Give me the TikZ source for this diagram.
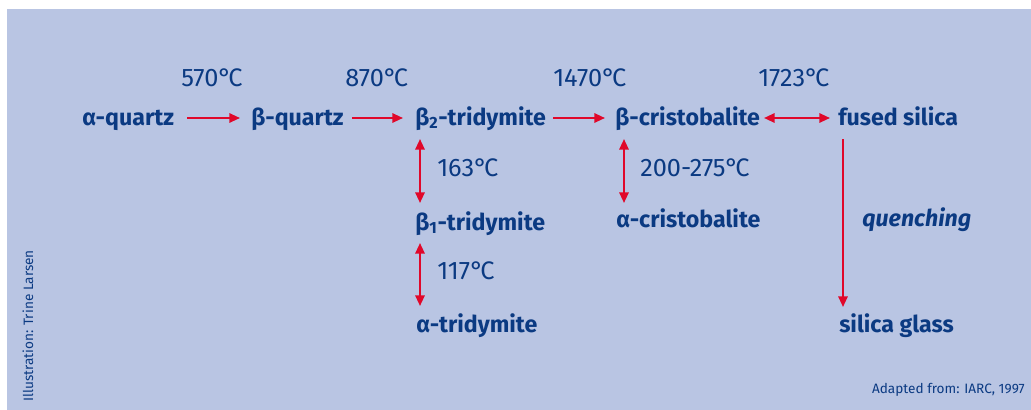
\documentclass[tikz,border=0pt]{standalone}
\usepackage{fontspec}
\setmainfont{Fira Sans}
\usetikzlibrary{arrows.meta}
\definecolor{bgc}{HTML}{B9C5E3}
\definecolor{txc}{HTML}{0B3A82}
\definecolor{arc}{HTML}{E0082A}
\newcommand{\dgC}{°\kern-0.13em C}
\tikzset{
  phase/.style={font=\fontsize{17.4}{20}\selectfont\bfseries, text=txc, inner sep=0pt, anchor=base west},
  temp/.style={font=\fontsize{19}{22}\selectfont, text=txc, inner sep=0pt, anchor=base west},
  note/.style={font=\fontsize{10.2}{12}\selectfont, text=txc, inner sep=0pt},
  tip/.tip={Triangle[length=8pt,width=7pt]},
  conv/.style={draw=arc, line width=1.5pt, -tip},
  conv2/.style={draw=arc, line width=1.5pt, tip-tip},
}
\begin{document}
\begin{tikzpicture}[x=0.75pt,y=-0.75pt]
\useasboundingbox (0,0) rectangle (1031,410);
\fill[bgc] (7,9) rectangle (1031,410);
% phases
\node[phase] (aq) at (82,125) {α-quartz};
\node[phase] (bq) at (251,125) {β-quartz};
\node[phase] (b2t) at (415,125) {β\textsubscript{2}-tridymite};
\node[phase] (bc) at (615,125) {β-cristobalite};
\node[phase] (fs) at (838,125) {fused silica};
\node[phase] (b1t) at (415,230) {β\textsubscript{1}-tridymite};
\node[phase] (at) at (416,332) {α-tridymite};
\node[phase] (ac) at (616,227) {α-cristobalite};
\node[phase] (sg) at (839,332) {silica glass};
% temperatures
\node[temp] (t1) at (181,87) {570\dgC};
\node[temp] (t2) at (345,87) {870\dgC};
\node[temp] (t3) at (553,87) {1470\dgC};
\node[temp] (t4) at (758,87) {1723\dgC};
\node[temp] (t5) at (437,176) {163\dgC};
\node[temp] (t6) at (437,279) {117\dgC};
\node[temp] (t7) at (640,176) {200-275\dgC};
\node[phase, font=\fontsize{17.4}{20}\selectfont\bfseries\itshape] (q) at (862,226) {quenching};
% notes
\node[note, anchor=base east] (src) at (1025,393) {Adapted from: IARC, 1997};
\node[note, rotate=90, anchor=base west] (ill) at (33,402) {Illustration: Trine Larsen};
% arrow end points
\coordinate (a1s) at (187,118); \coordinate (a1e) at (240,118);
\coordinate (a2s) at (352,118); \coordinate (a2e) at (403,118);
\coordinate (a3s) at (553,118); \coordinate (a3e) at (605,118);
\coordinate (a4s) at (764,118); \coordinate (a4e) at (830,118);
\coordinate (v1s) at (420,139); \coordinate (v1e) at (420,203);
\coordinate (v2s) at (420,243); \coordinate (v2e) at (420,306);
\coordinate (v3s) at (624,139); \coordinate (v3e) at (624,203);
\coordinate (v4s) at (843,139); \coordinate (v4e) at (843,307);
% connectors
\draw[conv] (a1s) -- (a1e);
\draw[conv] (a2s) -- (a2e);
\draw[conv] (a3s) -- (a3e);
\draw[conv2] (a4s) -- (a4e);
\draw[conv2] (v1s) -- (v1e);
\draw[conv2] (v2s) -- (v2e);
\draw[conv2] (v3s) -- (v3e);
\draw[conv] (v4s) -- (v4e);
\end{tikzpicture}
\end{document}
